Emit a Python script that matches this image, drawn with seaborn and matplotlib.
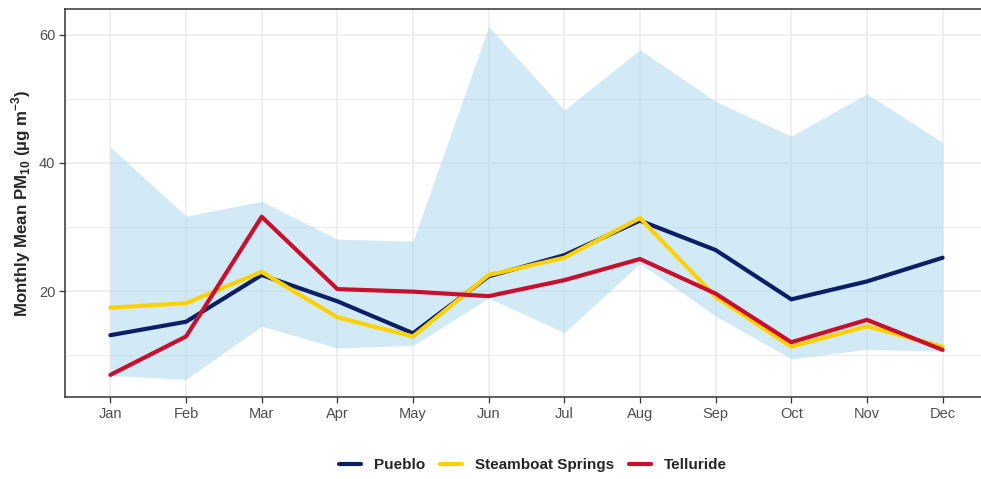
import numpy as np
import pandas as pd
import matplotlib
matplotlib.use("Agg")
import matplotlib.pyplot as plt
import seaborn as sns
from matplotlib.lines import Line2D

# valores
meses = ["Jan", "Feb", "Mar", "Apr", "May", "Jun",
         "Jul", "Aug", "Sep", "Oct", "Nov", "Dec"]
pueblo = [13.1, 15.2, 22.5, 18.4, 13.4, 22.3, 25.6, 31.0, 26.4, 18.7, 21.5, 25.2]
steamboat = [17.4, 18.1, 23.0, 15.9, 12.9, 22.5, 25.2, 31.4, 19.1, 11.3, 14.5, 11.3]
telluride = [6.9, 12.9, 31.6, 20.3, 19.9, 19.2, 21.7, 25.0, 19.6, 12.0, 15.5, 10.8]
faixa_max = [42.5, 31.7, 34.0, 28.1, 27.8, 61.3, 48.3, 57.7, 49.6, 44.2, 50.8, 43.2]
faixa_min = [6.8, 6.2, 14.5, 11.1, 11.5, 18.9, 13.5, 24.3, 16.1, 9.4, 10.9, 10.6]

cidades = ["Pueblo", "Steamboat Springs", "Telluride"]
cores = {"Pueblo": "#0c1f66", "Steamboat Springs": "#ffd100", "Telluride": "#c8102e"}

df = pd.DataFrame({
    "mes": meses * 3,
    "idx": list(range(12)) * 3,
    "pm10": pueblo + steamboat + telluride,
    "cidade": np.repeat(cidades, 12),
})

sns.set_theme(style="white")
plt.rcParams["font.family"] = ["Liberation Sans", "DejaVu Sans"]
plt.rcParams["mathtext.fontset"] = "custom"
plt.rcParams["mathtext.rm"] = "Liberation Sans"
plt.rcParams["mathtext.bf"] = "Liberation Sans:bold"

fig = plt.figure(figsize=(9.81, 4.79), dpi=100)
ax = fig.add_axes([65 / 981, 1 - 397 / 479, (988 - 65) / 981, (397 - 9) / 479])

x = np.arange(12)
ax.fill_between(x, faixa_min, faixa_max, color="#a6d5ee", alpha=0.5, linewidth=0, zorder=1)

sns.lineplot(data=df, x="idx", y="pm10", hue="cidade", palette=cores,
             linewidth=3, ax=ax, legend=False, zorder=3)

# limites com expansao de 5% (estilo ggplot)
lo = min(faixa_min + pueblo + steamboat + telluride)
hi = max(faixa_max + pueblo + steamboat + telluride)
pad = (hi - lo) * 0.05
ax.set_ylim(lo - pad, hi + pad)
ax.set_xlim(-0.6, 11.6)

ax.set_xticks(x)
ax.set_xticklabels(meses)
ax.set_yticks([20, 40, 60])
ax.set_yticks([10, 30, 50], minor=True)
ax.grid(True, which="major", color="#ebebeb", linewidth=1.1, zorder=0)
ax.grid(True, which="minor", axis="y", color="#ebebeb", linewidth=0.6, zorder=0)
ax.set_axisbelow(True)

ax.tick_params(axis="both", which="major", length=4, width=0.9, color="#333333",
               labelcolor="#4d4d4d", labelsize=10.5, pad=3, direction="out",
               bottom=True, left=True)
ax.tick_params(axis="y", which="minor", length=0)
for s in ax.spines.values():
    s.set_color("#333333")
    s.set_linewidth(1.1)

ax.set_xlabel("")
ax.set_ylabel(r"Monthly Mean PM$_{\mathbf{10}}$ (µg m$^{\mathbf{-3}}$)",
              fontsize=12.2, fontweight="bold", labelpad=4)

handles = [Line2D([0], [0], color=cores[c], linewidth=3) for c in cidades]
leg = fig.legend(handles, cidades, loc="center", bbox_to_anchor=(533 / 981, 1 - 465 / 479),
                 ncol=3, frameon=False, handlelength=1.45, columnspacing=0.95,
                 handletextpad=0.85, prop={"weight": "bold", "size": 11})

fig.savefig("out.png", dpi=100)
